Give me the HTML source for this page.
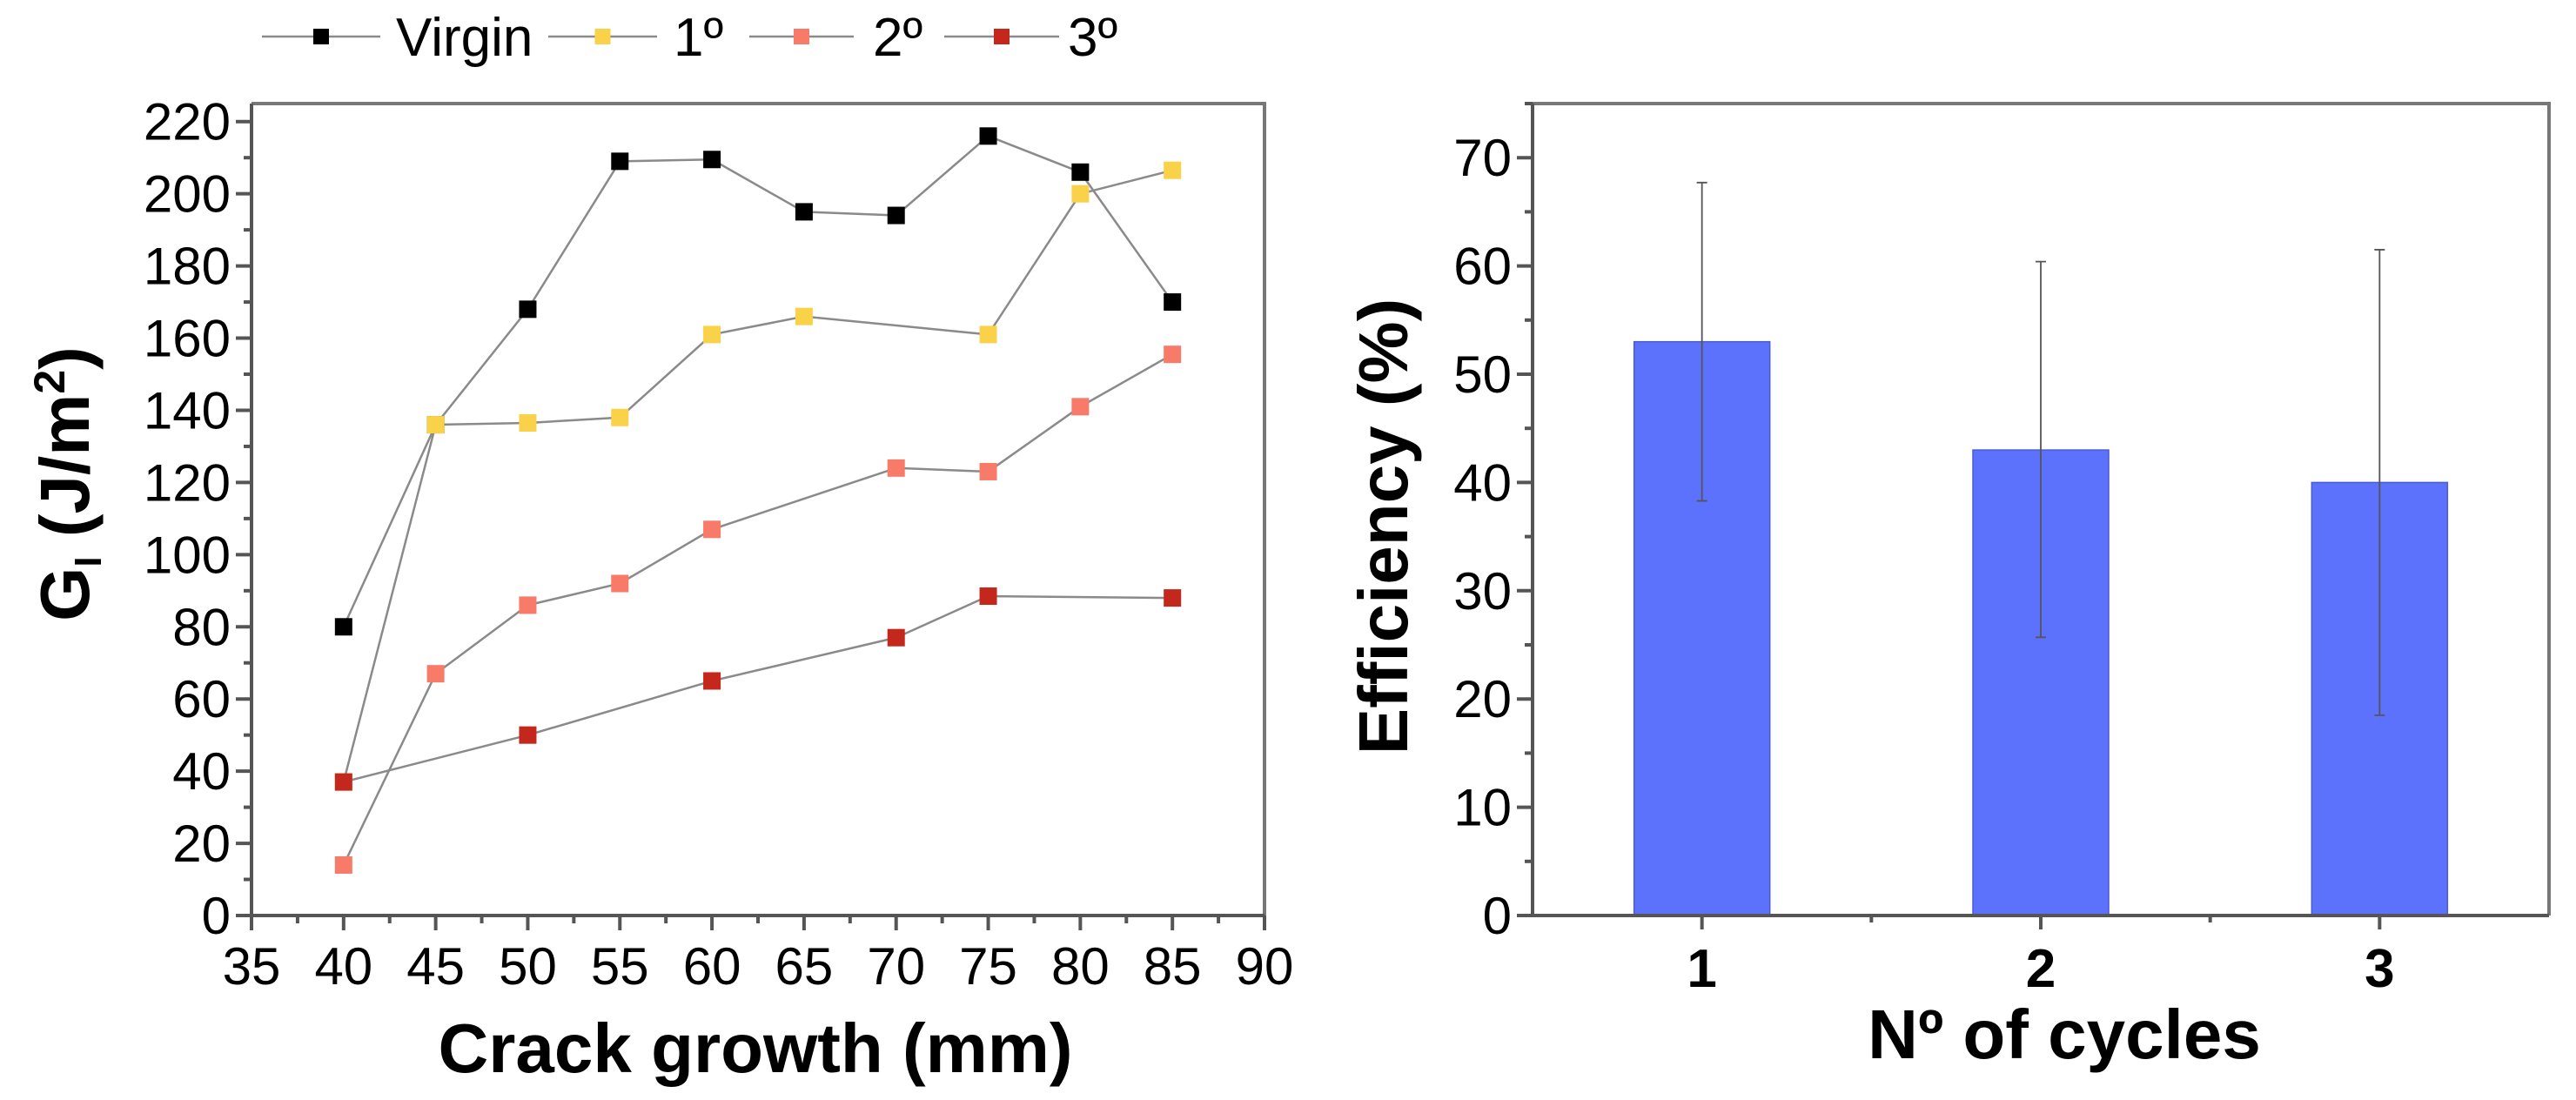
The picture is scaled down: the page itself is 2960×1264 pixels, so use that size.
<!DOCTYPE html>
<html><head><meta charset="utf-8"><style>
html,body{margin:0;padding:0;background:#fff;}
svg{display:block;font-family:"Liberation Sans",Arial,sans-serif;}
</style></head><body>
<svg id="fig" width="2960" height="1264" viewBox="0 0 2960 1264" xmlns="http://www.w3.org/2000/svg">
<g id="left"></g>
<g id="right"></g>
</svg>
<script>
// ---- Left chart data ----
const crackX = [40,45,50,55,60,65,70,75,80,85];
const virginVals = [80,136,168,209,209.5,195,194,216,206,170];
const firstVals = [37,136,136.5,138,161,166,null,161,200,206.5];
const secondVals = [14,67,86,92,107,null,124,123,141,155.5];
const thirdVals = [37,null,50,null,65,null,77,88.5,null,88];
const seriesNames = ["Virgin","1º","2º","3º"];
const xTicksLeft = [35,40,45,50,55,60,65,70,75,80,85,90];
const yTicksLeft = [0,20,40,60,80,100,120,140,160,180,200,220];
// ---- Right chart data ----
const cycles = ["1","2","3"];
const efficiency = [53,43,40];
const errUpper = [67.7,60.4,61.5];
const errLower = [38.3,25.7,18.5];
const yTicksRight = [0,10,20,30,40,50,60,70];

const NS="http://www.w3.org/2000/svg";
function mk(parent,tag,attrs,text){const e=document.createElementNS(NS,tag);for(const k in attrs)e.setAttribute(k,attrs[k]);if(text!==undefined)e.textContent=text;parent.appendChild(e);return e;}

// ===== Left chart =====
const L=document.getElementById('left');
const lx0=289,lx1=1453,ly0=1052,ly1=119;
const xL=v=>lx0+(v-35)*(lx1-lx0)/55;
const yL=v=>ly0-(v-0)*(ly0-ly1)/225;
const colors=["#000000","#f9d24a","#f87a68","#c4281c"];
const allSeries=[virginVals,firstVals,secondVals,thirdVals];
let fr=mk(L,'path',{d:`M${lx0} ${ly1} H${lx1} V${ly0}`,fill:'none',stroke:'#777','stroke-width':4});

allSeries.forEach((vals,si)=>{
  const pts=[];vals.forEach((v,i)=>{if(v!==null)pts.push([xL(crackX[i]),yL(v)]);});
  const pl=mk(L,'polyline',{points:pts.map(p=>p.join(',')).join(' '),fill:'none',stroke:'#8a8a8a','stroke-width':2.5});
  
  
});
[0,2,1,3].forEach(si=>{
  allSeries[si].forEach((v,i)=>{if(v===null)return;
    const r=mk(L,'rect',{x:xL(crackX[i])-10,y:yL(v)-10,width:20,height:20,fill:colors[si]});
    
    
  });
});
let ax=mk(L,'path',{d:`M${lx0} ${ly1} V${ly0} H${lx1}`,fill:'none',stroke:'#555','stroke-width':4});

for(let v=35;v<=90;v+=2.5){const maj=(v%5===0);mk(L,'line',{x1:xL(v),x2:xL(v),y1:ly0,y2:ly0+(maj?17:9),stroke:'#555','stroke-width':4});}
for(let v=0;v<=220;v+=10){const maj=(v%20===0);mk(L,'line',{x1:lx0,x2:lx0-(maj?18:9),y1:yL(v),y2:yL(v),stroke:'#555','stroke-width':4});}
xTicksLeft.forEach(v=>{const t=mk(L,'text',{x:xL(v),y:1131,'font-size':60,'text-anchor':'middle'},String(v));
  });
yTicksLeft.forEach(v=>{const t=mk(L,'text',{x:265,y:yL(v)+21,'font-size':60,'text-anchor':'end'},String(v));
  });
let xt=mk(L,'text',{x:868,y:1232,'font-size':80,'font-weight':'bold','text-anchor':'middle'},'Crack growth (mm)');

let yt=mk(L,'text',{transform:'translate(102,556) rotate(-90)','font-size':80,'font-weight':'bold','text-anchor':'middle'});

mk(yt,'tspan',{},'G');mk(yt,'tspan',{'font-size':44,dy:14},'I');mk(yt,'tspan',{dy:-14},' (J/m');mk(yt,'tspan',{'font-size':50,dy:-28},'2');mk(yt,'tspan',{dy:28},')');
// legend
const legX=[[301,437,455],[630,755,774],[861,981,1003],[1085,1217,1227]];
seriesNames.forEach((n,i)=>{
  const g=mk(L,'g',{});
  
  
  const [a,b,tx]=legX[i];const cy=42;
  mk(g,'line',{x1:a,x2:b,y1:cy,y2:cy,stroke:'#8a8a8a','stroke-width':2.5});
  mk(g,'rect',{x:(a+b)/2-9,y:cy-9,width:18,height:18,fill:colors[i]});
  mk(g,'text',{x:tx,y:cy+22,'font-size':62},n);
});

// ===== Right chart =====
const R=document.getElementById('right');
const rx0=1761,rx1=2929,ry0=1052,ry1=119;
const xR=c=>rx0+(c-0.5)*(rx1-rx0)/3;
const yR=v=>ry0-v*(ry0-ry1)/75;
let fr2=mk(R,'path',{d:`M${rx0} ${ry1} H${rx1} V${ry0}`,fill:'none',stroke:'#777','stroke-width':4});

efficiency.forEach((v,i)=>{
  const cx=xR(i+1);
  const b=mk(R,'rect',{x:cx-78,y:yR(v),width:156,height:yR(0)-yR(v),fill:'#5c72fc',stroke:'#4a5bd0','stroke-width':1.5});
  
  const e=mk(R,'path',{d:`M${cx} ${yR(errUpper[i])} V${yR(errLower[i])} M${cx-6} ${yR(errUpper[i])} H${cx+6} M${cx-6} ${yR(errLower[i])} H${cx+6}`,stroke:'#555','stroke-width':1.8,fill:'none'});
  
});
let ax2=mk(R,'path',{d:`M${rx0} ${ry1} V${ry0} H${rx1}`,fill:'none',stroke:'#555','stroke-width':4});

for(let v=0;v<=75;v+=5){const maj=(v%10===0);mk(R,'line',{x1:rx0,x2:rx0-(maj?18:9),y1:yR(v),y2:yR(v),stroke:'#555','stroke-width':4});}
for(let c=1;c<=3;c+=0.5){const maj=(c%1===0);mk(R,'line',{x1:xR(c),x2:xR(c),y1:ry0,y2:ry0+(maj?16:8),stroke:'#555','stroke-width':4});}
yTicksRight.forEach(v=>{const t=mk(R,'text',{x:1737,y:yR(v)+21,'font-size':60,'text-anchor':'end'},String(v));
  });
cycles.forEach((c,i)=>{const t=mk(R,'text',{x:xR(i+1),y:1134,'font-size':62,'font-weight':'bold','text-anchor':'middle'},c);
  });
let xt2=mk(R,'text',{x:2372,y:1216,'font-size':80,'font-weight':'bold','text-anchor':'middle'},'Nº of cycles');

let yt2=mk(R,'text',{transform:'translate(1617,605) rotate(-90)','font-size':80,'font-weight':'bold','text-anchor':'middle'},'Efficiency (%)');

</script>
</body></html>
